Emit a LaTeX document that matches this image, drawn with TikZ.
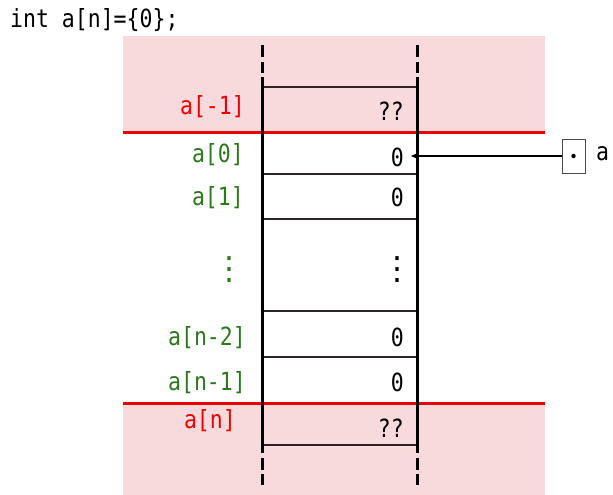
\documentclass[tikz,border=0pt]{standalone}
\usepackage{fontspec}
\setmonofont[FakeStretch=0.86]{DejaVu Sans Mono}
\newfontfamily\symbfont{DejaVu Sans}
\usetikzlibrary{arrows.meta}
\definecolor{oobpink}{RGB}{248,217,220}
\definecolor{oobred}{RGB}{235,0,0}
\definecolor{idxgreen}{RGB}{45,120,30}
\definecolor{cellline}{RGB}{45,35,35}
\begin{document}
\begin{tikzpicture}[x=1pt,y=-1pt,
  code/.style={font=\ttfamily\fontsize{25}{29}\selectfont, inner sep=0pt},
  idx/.style={code, text=idxgreen, anchor=east},
  oob/.style={code, text=oobred, anchor=east},
  val/.style={code, anchor=east},
  vdots/.style={font=\symbfont\fontsize{32}{36}\selectfont, inner sep=0pt},
  wall/.style={line width=3pt, black},
  sep/.style={line width=1.5pt, cellline},
  bound/.style={line width=3pt, oobred},
]
\useasboundingbox (0,0) rectangle (613,495);

% out-of-bounds memory regions
\fill[oobpink] (123,36) rectangle (545,132);
\fill[oobpink] (123,403) rectangle (545,495);

% declaration
\node[code, anchor=base west] (decl) at (10,28) {int a[n]=\{0\};};

% array boundaries
\draw[bound] (123,132) -- (545,132);
\draw[bound] (123,403) -- (545,403);

% cell separators
\foreach \y in {87,174,219,311,357,445}
  \draw[sep] (262,\y) -- (417,\y);

% memory walls, dashed where they continue beyond the picture
\foreach \x in {262,417} {
  \draw[wall] (\x,45) -- (\x,57);
  \draw[wall] (\x,62) -- (\x,73);
  \draw[wall] (\x,77) -- (\x,453);
  \draw[wall] (\x,458) -- (\x,470);
  \draw[wall] (\x,474) -- (\x,485);
}

% cell contents
\node[val] (vm1) at (404,111) {??};
\node[val] (v0)  at (404,157) {0};
\node[val] (v1)  at (404,197) {0};
\node[vdots] (vd) at (397,270) {⋮};
\node[val] (vn2) at (404,337) {0};
\node[val] (vn1) at (404,382) {0};
\node[val] (vn)  at (404,428) {??};

% index labels
\node[oob] (lm1) at (245,107) {a[-1]};
\node[idx] (l0)  at (244,155) {a[0]};
\node[idx] (l1)  at (244,198) {a[1]};
\node[vdots, text=idxgreen] (ld) at (229,270) {⋮};
\node[idx] (ln2) at (246,338) {a[n-2]};
\node[idx] (ln1) at (246,383) {a[n-1]};
\node[oob] (ln)  at (236,421) {a[n]};

% pointer a
\node[draw=black!70, line width=0.8pt, minimum width=23pt, minimum height=34pt, inner sep=0pt] (ptr) at (573.5,156) {};
\fill (ptr.center) circle (2.2pt);
\node[code, anchor=west] (pname) at (596,154) {a};
\coordinate (a0) at (411,156);
\draw[line width=1.3pt, -{Stealth[length=8pt,width=7pt]}] (ptr.west) -- (a0);
\end{tikzpicture}
\end{document}
